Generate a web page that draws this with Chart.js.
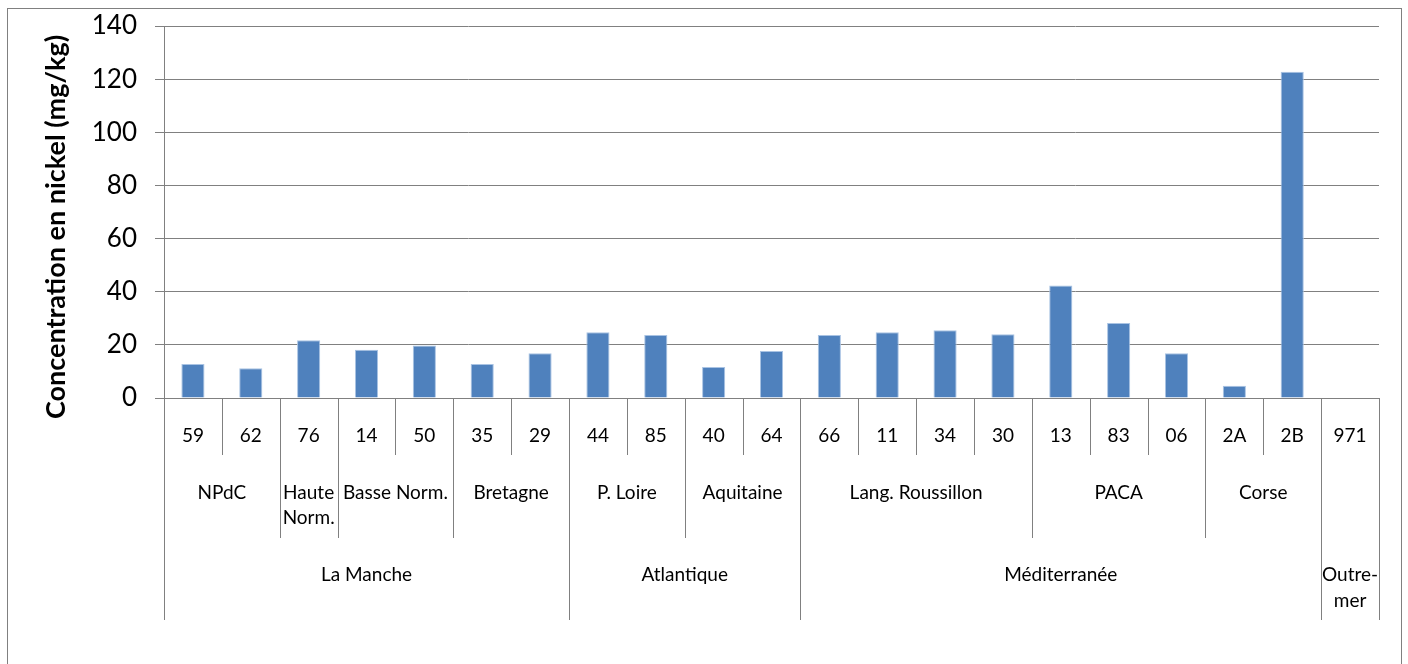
<!DOCTYPE html>
<html>
<head>
<meta charset="utf-8">
<title>Concentration en nickel</title>
<script src="https://cdn.jsdelivr.net/npm/chart.js@4/dist/chart.umd.min.js"></script>
<style>
  html, body { margin: 0; padding: 0; background: #ffffff; }
  #wrap { width: 1408px; height: 664px; position: relative; }
</style>
</head>
<body>
<div id="wrap"><canvas id="c" width="1408" height="664"></canvas></div>
<script>
// Départements (niveau 1 de l'axe)
const departements = ['59', '62', '76', '14', '50', '35', '29', '44', '85', '40', '64',
                      '66', '11', '34', '30', '13', '83', '06', '2A', '2B', '971'];
// Concentration en nickel (mg/kg)
const nickel = [12.8, 11.2, 21.7, 18.2, 19.8, 12.8, 16.8, 24.7, 23.7, 11.7, 17.7,
                23.7, 24.7, 25.5, 24.0, 42.3, 28.2, 16.8, 4.6, 122.8, null];
// Régions (niveau 2) et nombre de départements couverts
const regions = [['NPdC'], ['Haute', 'Norm.'], ['Basse Norm.'], ['Bretagne'], ['P. Loire'],
                 ['Aquitaine'], ['Lang. Roussillon'], ['PACA'], ['Corse'], ['']];
const regionSpans = [2, 1, 2, 2, 2, 2, 4, 3, 2, 1];
// Façades (niveau 3) et nombre de départements couverts
const facades = [['La Manche'], ['Atlantique'], ['Méditerranée'], ['Outre-', 'mer']];
const facadeSpans = [7, 4, 9, 1];
// Axe des valeurs
const yMin = 0, yMax = 140, yStep = 20;
const yTitle = 'Concentration en nickel (mg/kg)';

const FONT = 'Lato, "Open Sans", sans-serif';
const LINE = '#808080';
const TEXT = '#000000';

function boundarySet(spans) {
  const s = new Set([0]);
  let acc = 0;
  spans.forEach(n => { acc += n; s.add(acc); });
  return s;
}

// Axe des catégories à trois niveaux, cadre et titre vertical
const hierarchyAxis = {
  id: 'hierarchyAxis',
  beforeDraw(chart) {
    const ctx = chart.ctx;
    ctx.save();
    ctx.strokeStyle = LINE;
    ctx.lineWidth = 1;
    ctx.strokeRect(7.5, 8.5, 1394, 700);
    ctx.restore();
  },
  afterDraw(chart) {
    const ctx = chart.ctx;
    const xs = chart.scales.x;
    const area = chart.chartArea;
    const n = departements.length;
    const half = (xs.getPixelForValue(1) - xs.getPixelForValue(0)) / 2;
    const edge = i => (i < n ? xs.getPixelForValue(i) - half : xs.getPixelForValue(n - 1) + half);

    const axisY = area.bottom;
    const lvl1 = axisY + 57, lvl2 = axisY + 140, lvl3 = axisY + 222;
    const regB = boundarySet(regionSpans);
    const facB = boundarySet(facadeSpans);

    ctx.save();
    ctx.strokeStyle = LINE;
    ctx.lineWidth = 1;
    for (let i = 0; i <= n; i++) {
      const bottom = facB.has(i) ? lvl3 : (regB.has(i) ? lvl2 : lvl1);
      const px = Math.round(edge(i)) + 0.5;
      ctx.beginPath();
      ctx.moveTo(px, axisY);
      ctx.lineTo(px, bottom);
      ctx.stroke();
    }

    ctx.fillStyle = TEXT;
    ctx.textAlign = 'center';
    ctx.textBaseline = 'middle';
    ctx.font = '19px ' + FONT;
    departements.forEach((d, i) => ctx.fillText(d, xs.getPixelForValue(i), axisY + 38));

    const drawGroup = (labels, spans, y0, lh) => {
      let start = 0;
      labels.forEach((lines, k) => {
        const cx = (edge(start) + edge(start + spans[k])) / 2;
        lines.forEach((t, j) => ctx.fillText(t, cx, y0 + j * lh));
        start += spans[k];
      });
    };
    drawGroup(regions, regionSpans, axisY + 95, 25);
    drawGroup(facades, facadeSpans, axisY + 177, 26);

    // Titre de l'axe vertical
    ctx.translate(56, 227);
    ctx.rotate(-Math.PI / 2);
    ctx.font = 'bold 27px ' + FONT;
    ctx.fillText(yTitle, 0, 0);
    ctx.restore();
  }
};

new Chart(document.getElementById('c'), {
  type: 'bar',
  data: {
    labels: departements,
    datasets: [{
      data: nickel,
      backgroundColor: '#4F81BD',
      borderColor: '#a9c3e3',
      borderWidth: { top: 1, left: 1, right: 1, bottom: 0 },
      borderSkipped: 'bottom',
      categoryPercentage: 1.0,
      barPercentage: 0.4
    }]
  },
  options: {
    responsive: false,
    animation: false,
    devicePixelRatio: 1,
    layout: { padding: { left: 0, top: 26, right: 29, bottom: 0 } },
    plugins: { legend: { display: false }, tooltip: { enabled: false } },
    scales: {
      x: {
        grid: { display: false },
        ticks: { display: false },
        border: { display: true, color: LINE },
        afterFit(s) { s.height = 266; }
      },
      y: {
        min: yMin,
        max: yMax,
        ticks: { stepSize: yStep, color: TEXT, padding: 18, font: { family: FONT, size: 26 } },
        grid: { color: LINE, tickLength: 9 },
        border: { display: true, color: LINE },
        afterFit(s) {
          s.width = 164;
          s.paddingTop = 0;
          s.paddingBottom = 0;
        }
      }
    }
  },
  plugins: [hierarchyAxis]
});
</script>
</body>
</html>
